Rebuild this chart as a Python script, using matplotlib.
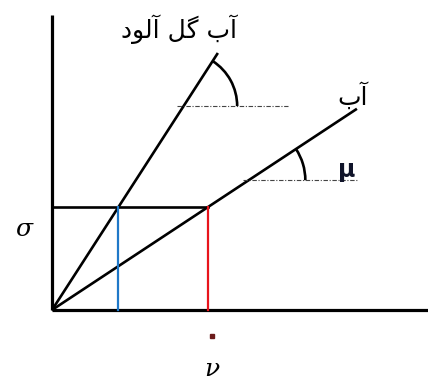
import matplotlib
matplotlib.use("Agg")
import matplotlib.pyplot as plt
from matplotlib.patches import Arc
import numpy as np

# values of the sketch (units: sigma level = 1)
sigma = 1.0
slopes = [1.55, 0.66]            # muddy water, clear water
line_ends = [1.61, 2.96]         # x where each line stops
line_labels = ["\uFEA9\uFEEE\uFEDF\uFE81 \uFEDE\uFB94 \uFE8F\uFE81", "\uFE8F\uFE81"]  # آب گل آلود , آب
label_pos = [(1.23, 2.73), (2.92, 2.08)]
ref_levels = [1.98, 1.26]        # dash-dot reference lines
ref_spans = [(1.21, 2.29), (1.85, 2.97)]
arc_radius = [0.52, 0.55]
drop_colors = ["#1f78c8", "#e8141c"]

fig = plt.figure(figsize=(4.28, 3.80), dpi=100)
ax = fig.add_axes([0, 0, 1, 1])
ax.set_xlim(-0.505, 3.65)
ax.set_ylim(-0.68, 3.01)
ax.axis("off")

# axes of the sketch
ax.plot([0, 0], [0, 2.86], color="black", lw=2.3, solid_capstyle="butt")
ax.plot([0, 3.65], [0, 0], color="black", lw=2.3, solid_capstyle="butt")

nus = [sigma / s for s in slopes]

# horizontal sigma line
ax.plot([0, max(nus)], [sigma, sigma], color="black", lw=1.9)

# the two lines
for s, xe, lab, (lx, ly) in zip(slopes, line_ends, line_labels, label_pos):
    ax.plot([0, xe], [0, s * xe], color="black", lw=1.9, solid_capstyle="butt")
    ax.text(lx, ly, lab, fontsize=18, ha="center", va="center", family="DejaVu Sans")

# vertical drops
for nu, c in zip(nus, drop_colors):
    ax.plot([nu, nu], [0, sigma], color=c, lw=1.6)

# angle marks
for s, lvl, (x0, x1), r in zip(slopes, ref_levels, ref_spans, arc_radius):
    ax.plot([x0, x1], [lvl, lvl], color="#444444", lw=0.8, ls=(0, (4, 1.5, 1, 1.5)))
    cx = lvl / s
    ang = np.degrees(np.arctan(s))
    ax.add_patch(Arc((cx, lvl), 2 * r, 2 * r, theta1=0, theta2=ang, color="black", lw=1.9))

ax.text(2.86, 1.36, "\u03bc", fontsize=17, fontweight="bold", color="#10142a", ha="center", va="center")
ax.text(-0.27, 0.78, "\u03c3", fontsize=18, style="italic", family="DejaVu Serif", ha="center", va="center")
ax.text(1.55, -0.58, "\u03bd", fontsize=18, style="italic", family="DejaVu Serif", ha="center", va="center")
ax.plot([1.55], [-0.25], marker="s", ms=3, color="#6b1a1a")

fig.savefig("out.png", dpi=100)
